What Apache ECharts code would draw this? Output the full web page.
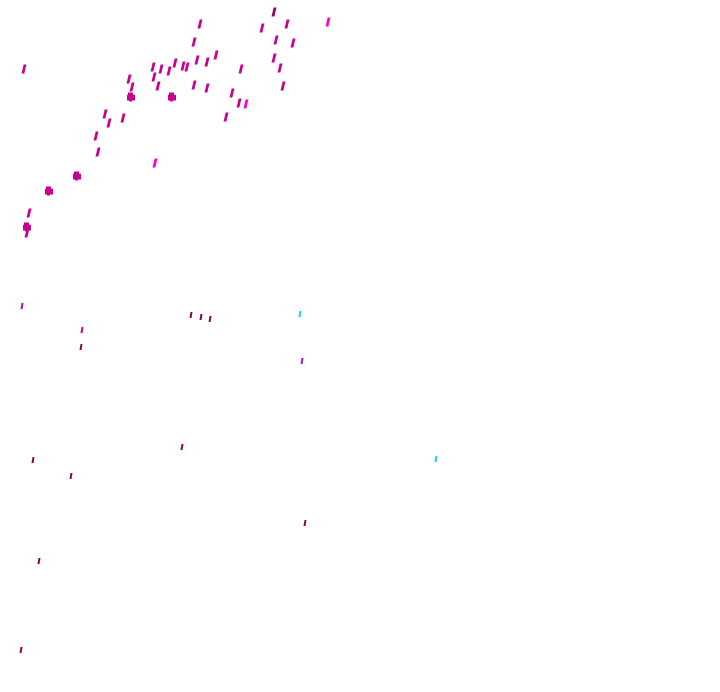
<!DOCTYPE html>
<html><head><meta charset="utf-8">
<script src="https://cdn.jsdelivr.net/npm/echarts@6/dist/echarts.min.js"></script>
<style>html,body{margin:0;padding:0;background:#fff}#c{width:720px;height:692px}</style>
</head><body><div id="c"></div>
<script>
// Point positions (x to the right, y downward)
const magentaPts = [[24,69],[200,24],[194,42],[262,28],[287,24],[276,40],[293,43],[274,58],[280,68],[216,55],[207,62],[197,60],[175,63],[183,66],[187,67],[169,71],[161,69],[153,67],[154,77],[129,79],[132,87],[158,86],[194,85],[207,88],[241,69],[232,93],[239,103],[226,117],[283,86],[105,114],[109,123],[123,118],[96,136],[98,152],[29,213],[27,233]];
const darkPts = [[274,12]];
const brightPts = [[328,22],[246,104],[155,163]];
const blockPts = [[131,97],[172,97],[77,176],[49,191],[27,227]];
const smallMagentaPts = [[22,306],[82,330]];
const smallDarkPts = [[81,347],[191,315],[201,317],[210,319],[33,460],[71,476],[182,447],[305,523],[39,561],[21,650]];
const cyanPts = [[300,314],[436,459]];
const purplePts = [[302,361]];

const stroke = 'path://M2.2,0 L5,0 L2.8,9 L0,9 Z';
const small = 'path://M1,0 L3,0 L2,6 L0,6 Z';
const blob = 'path://M1,0 L6,0 L6,2 L8,2 L8,7 L5,7 L5,8 L2,8 L2,7 L0,7 L0,2 L1,2 Z';
function s(data, color, symbol, size){
  return {type:'scatter', data, symbol, symbolSize:size, itemStyle:{color, opacity:1}, silent:true, animation:false};
}
const chart = echarts.init(document.getElementById('c'));
chart.setOption({
  animation:false,
  grid:{left:0,right:0,top:0,bottom:0},
  xAxis:{type:'value',min:0,max:720,show:false},
  yAxis:{type:'value',min:0,max:692,inverse:true,show:false},
  series:[
    s(magentaPts,'#c9008f',stroke,[5,9]),
    s(darkPts,'#930060',stroke,[5,9]),
    s(brightPts,'#ff00c4',stroke,[5,9]),
    s(blockPts,'#c9008f',blob,[8,9]),
    s(smallMagentaPts,'#c9008f',small,[3,6]),
    s(smallDarkPts,'#8c0058',small,[3,6]),
    s(cyanPts,'#14d0f2',small,[3,6]),
    s(purplePts,'#9a10f0',small,[3,6])
  ]
});
</script></body></html>
